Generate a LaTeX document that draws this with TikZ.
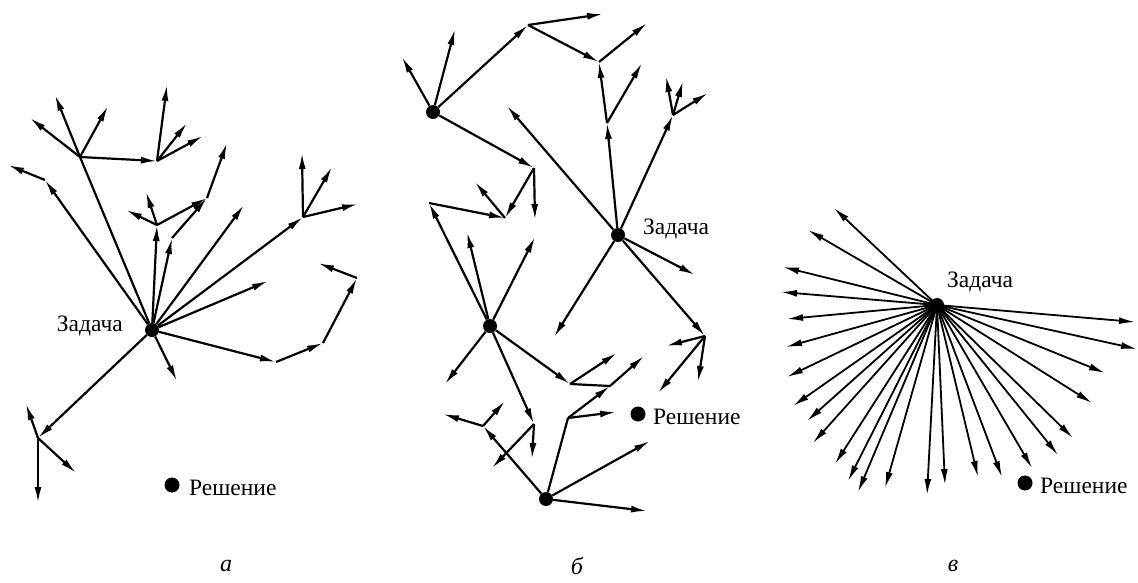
\documentclass[tikz,border=0pt]{standalone}
\usepackage{fontspec}
\setmainfont{Liberation Serif}
\usetikzlibrary{arrows.meta}
\begin{document}
\begin{tikzpicture}[x=1pt,y=-1pt,
  ar/.style={-{Latex[length=16pt,width=7pt]}, line width=2.2pt},
  ln/.style={line width=2.2pt},
  dot/.style={circle, fill, inner sep=0pt, minimum size=14pt},
  lbl/.style={font=\fontsize{23.5}{28}\selectfont, inner sep=0pt},
  captext/.style={font=\fontsize{24}{28}\selectfont\itshape, inner sep=0pt}]
\useasboundingbox (0,0) rectangle (1138,582);

% ---------------- panel a ----------------
\node[dot] (A) at (152,330) {};
\node[lbl, anchor=east] (Alab) at (123,326) {Задача};
\node[dot, minimum size=15pt] (AR) at (172,485) {};
\node[lbl, anchor=west] (ARlab) at (189,488) {Решение};
\coordinate (a1) at (45,180); \coordinate (a1e) at (8,165);
\coordinate (aJ1) at (80,157);
\coordinate (aJ1a) at (55,95); \coordinate (aJ1b) at (30,118); \coordinate (aJ1c) at (108,106);
\coordinate (aJ2) at (157,161);
\coordinate (aJ2a) at (167,85); \coordinate (aJ2b) at (187,123); \coordinate (aJ2c) at (203,136);
\coordinate (aJ3) at (157,225);
\coordinate (aJ3a) at (146,192); \coordinate (aJ3b) at (126,210);
\coordinate (aJ4) at (172,238);
\coordinate (aJ5) at (207,198); \coordinate (aJ5a) at (227,143);
\coordinate (aE1) at (244,205);
\coordinate (aJ6) at (303,217);
\coordinate (aJ6a) at (302,153); \coordinate (aJ6b) at (332,167); \coordinate (aJ6c) at (358,204);
\coordinate (aE2) at (268,281);
\coordinate (aJ7) at (276,362); \coordinate (aJ8) at (323,343);
\coordinate (aJ9) at (357,278); \coordinate (aJ9a) at (318,263);
\coordinate (aE3) at (177,381);
\coordinate (aJ10) at (38,438);
\coordinate (aJ10a) at (26,404); \coordinate (aJ10b) at (76,473); \coordinate (aJ10c) at (38,503);

\draw[ar] (A) -- (a1); \draw[ar] (a1) -- (a1e);
\draw[ln] (A) -- (aJ1);
\foreach \e in {aJ1a,aJ1b,aJ1c,aJ2} \draw[ar] (aJ1) -- (\e);
\foreach \e in {aJ2a,aJ2b,aJ2c} \draw[ar] (aJ2) -- (\e);
\draw[ar] (A) -- (aJ3);
\foreach \e in {aJ3a,aJ3b,aJ5} \draw[ar] (aJ3) -- (\e);
\draw[ar] (A) -- (aJ4); \draw[ar] (aJ4) -- (aJ5); \draw[ar] (aJ5) -- (aJ5a);
\draw[ar] (A) -- (aE1);
\draw[ar] (A) -- (aJ6);
\foreach \e in {aJ6a,aJ6b,aJ6c} \draw[ar] (aJ6) -- (\e);
\draw[ar] (A) -- (aE2);
\draw[ar] (A) -- (aJ7); \draw[ar] (aJ7) -- (aJ8); \draw[ar] (aJ8) -- (aJ9); \draw[ar] (aJ9) -- (aJ9a);
\draw[ar] (A) -- (aE3);
\draw[ar] (A) -- (aJ10);
\foreach \e in {aJ10a,aJ10b,aJ10c} \draw[ar] (aJ10) -- (\e);

% ---------------- panel b ----------------
\node[dot] (bT) at (433,112) {};
\node[dot] (bZ) at (618,235) {};
\node[lbl, anchor=west] (bZlab) at (643,229) {Задача};
\node[dot] (bM) at (490,326) {};
\node[dot] (bB) at (546,499) {};
\node[dot, minimum size=15pt] (bR) at (638,414) {};
\node[lbl, anchor=west] (bRlab) at (653,417) {Решение};

\coordinate (bN) at (528,25); \coordinate (bN1) at (603,14);
\coordinate (bK) at (599,62); \coordinate (bK1) at (647,23);
\coordinate (bJ) at (607,123); \coordinate (bJ1) at (642,63);
\coordinate (bL) at (673,115);
\coordinate (bL1) at (666,76); \coordinate (bL2) at (683,81); \coordinate (bL3) at (708,93);
\coordinate (bZ1) at (507,106); \coordinate (bZ2) at (695,275); \coordinate (bZ3) at (554,337);
\coordinate (bMM) at (705,336);
\coordinate (bMM1) at (666,346); \coordinate (bMM2) at (698,382); \coordinate (bMM3) at (658,393);
\coordinate (bT1) at (402,57); \coordinate (bT2) at (455,29);
\coordinate (bP) at (534,168); \coordinate (bP1) at (535,220);
\coordinate (bQ) at (505,218); \coordinate (bQ1) at (475,182);
\coordinate (bRr) at (429,203);
\coordinate (bM1) at (467,232); \coordinate (bM2) at (535,237); \coordinate (bM3) at (445,384);
\coordinate (bS) at (570,384); \coordinate (bS1) at (617,353);
\coordinate (bTT) at (610,386); \coordinate (bTT1) at (644,356);
\coordinate (bU) at (534,424); \coordinate (bU1) at (532,459); \coordinate (bU2) at (492,468);
\coordinate (bV) at (483,426); \coordinate (bV1) at (443,414); \coordinate (bV2) at (505,401);
\coordinate (bW) at (568,418); \coordinate (bW1) at (616,412);
\coordinate (bB1) at (650,441); \coordinate (bB2) at (647,511);

\foreach \e in {bZ1,bJ,bL,bZ2,bZ3,bMM} \draw[ar] (bZ) -- (\e);
\draw[ar] (bJ) -- (bK); \draw[ar] (bJ) -- (bJ1);
\draw[ar] (bK) -- (bK1); \draw[ar] (bN) -- (bK);
\foreach \e in {bL1,bL2,bL3} \draw[ar] (bL) -- (\e);
\foreach \e in {bMM1,bMM2,bMM3} \draw[ar] (bMM) -- (\e);
\foreach \e in {bT1,bT2,bN,bP} \draw[ar] (bT) -- (\e);
\draw[ar] (bN) -- (bN1);
\draw[ar] (bP) -- (bP1); \draw[ar] (bP) -- (bQ);
\draw[ar] (bQ) -- (bQ1); \draw[ar] (bRr) -- (bQ);
\foreach \e in {bRr,bM1,bM2,bM3,bS,bU} \draw[ar] (bM) -- (\e);
\draw[ar] (bS) -- (bS1); \draw[ln] (bS) -- (bTT); \draw[ar] (bTT) -- (bTT1);
\draw[ar] (bU) -- (bU1); \draw[ar] (bU) -- (bU2);
\draw[ar] (bB) -- (bV); \draw[ar] (bV) -- (bV1); \draw[ar] (bV) -- (bV2);
\draw[ln] (bB) -- (bW); \draw[ar] (bW) -- (bW1); \draw[ar] (bW) -- (bTT);
\draw[ar] (bB) -- (bB1); \draw[ar] (bB) -- (bB2);

% ---------------- panel c ----------------
\node[dot] (C) at (937,305) {};
\node[lbl, anchor=west] (Clab) at (947,282) {Задача};
\node[dot, minimum size=15pt] (CR) at (1025,483) {};
\node[lbl, anchor=west] (CRlab) at (1040,486) {Решение};
\foreach \x/\y [count=\i] in {834/208,808/230,783/267,781/292,787/319,786/347,787/377,793/406,
  807/421,813/443,835/464,848/481,858/492,885/488,927/495,945/485,978/477,1002/477,
  1032/468,1058/455,1073/438,1092/403,1105/373,1137/349,1135/322}
{
  \coordinate (c\i) at (\x,\y);
  \draw[ar, line width=1.8pt] (C.center) -- (c\i);
}

% ---------------- captions ----------------
\node[captext] (capA) at (226,566) {а};
\node[captext] (capB) at (577,566) {б};
\node[captext] (capC) at (953,566) {в};
\end{tikzpicture}
\end{document}
